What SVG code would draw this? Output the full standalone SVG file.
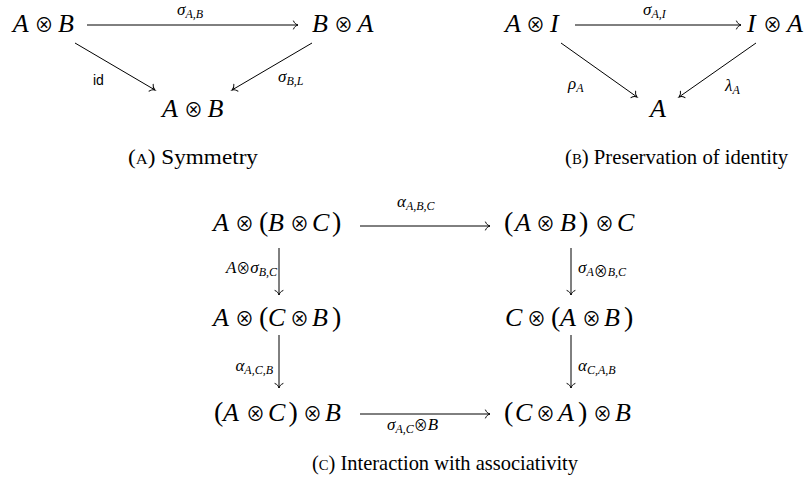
<svg xmlns="http://www.w3.org/2000/svg" width="812" height="487" viewBox="0 0 812 487">
<style>
text{font-family:"Liberation Serif","DejaVu Serif",serif;fill:#000}
.n{font-size:26px;font-style:italic}
.p{font-style:normal;font-size:28px}
.o{font-family:"Noto Sans CJK JP","Noto Sans CJK SC","DejaVu Sans",sans-serif;font-style:normal;font-size:19px;text-anchor:middle}
.os{font-family:"Noto Sans CJK JP","Noto Sans CJK SC","DejaVu Sans",sans-serif;font-style:normal;font-size:14px}
.i{font-style:italic}
.l{font-size:17px}
.s{font-size:12px;font-style:italic}
.cap{font-size:21px}
.sans{font-family:"Liberation Sans",sans-serif;font-size:14px}
.end{text-anchor:end}
.ar{fill:none;stroke:#000;stroke-width:1;marker-end:url(#to)}
</style>
<defs>
<marker id="to" markerUnits="userSpaceOnUse" markerWidth="12" markerHeight="12" refX="0" refY="0" viewBox="-6 -6 12 12" orient="auto" overflow="visible">
<path d="M-4.5,-4 C-3.5,-1.5 -1.5,-0.4 0,0 C-1.5,0.4 -3.5,1.5 -4.5,4" fill="none" stroke="#000" stroke-width="1" stroke-linecap="round"/>
</marker>
</defs>
<g id="connectors">
<path class="ar" d="M87,25 L298,25"/>
<path class="ar" d="M75,43 L155,90"/>
<path class="ar" d="M312,43 L232,90"/>
<path class="ar" d="M575,25 L741,25"/>
<path class="ar" d="M561,43 L637,97"/>
<path class="ar" d="M756,43 L679,97"/>
<path class="ar" d="M360,226 L490,226"/>
<path class="ar" d="M279,248 L279,295"/>
<path class="ar" d="M571,248 L571,295"/>
<path class="ar" d="M279,335 L279,388"/>
<path class="ar" d="M571,335 L571,388"/>
<path class="ar" d="M360,414 L490,414"/>
</g>
<g id="labels">
<text class="l" x="177" y="15"><tspan class="i">σ</tspan><tspan class="s" dy="3">A,B</tspan></text>
<text class="sans" x="93" y="85">id</text>
<text class="l" x="278" y="82"><tspan class="i">σ</tspan><tspan class="s" dy="3">B,L</tspan></text>
<text class="l" x="643" y="15"><tspan class="i">σ</tspan><tspan class="s" dy="3">A,I</tspan></text>
<text class="l" x="568" y="89"><tspan class="i">ρ</tspan><tspan class="s" dy="3">A</tspan></text>
<text class="l" x="725" y="91"><tspan class="i">λ</tspan><tspan class="s" dy="3">A</tspan></text>
<text class="l" x="397" y="207"><tspan class="i">α</tspan><tspan class="s" dy="3">A,B,C</tspan></text>
<text class="l end" x="277" y="273"><tspan class="i">A</tspan><tspan class="os">⊗</tspan><tspan class="i">σ</tspan><tspan class="s" dy="3">B,C</tspan></text>
<text class="l" x="578" y="273"><tspan class="i">σ</tspan><tspan class="s" dy="3">A</tspan><tspan class="os" font-size="10">⊗</tspan><tspan class="s">B,C</tspan></text>
<text class="l end" x="273" y="371"><tspan class="i">α</tspan><tspan class="s" dy="3">A,C,B</tspan></text>
<text class="l" x="578" y="371"><tspan class="i">α</tspan><tspan class="s" dy="3">C,A,B</tspan></text>
<text class="l" x="387" y="430"><tspan class="i">σ</tspan><tspan class="s" dy="3">A,C</tspan><tspan class="os" dy="-3">⊗</tspan><tspan class="i">B</tspan></text>
</g>
<g id="nA1"><text class="n" y="32"><tspan x="12.7">A</tspan><tspan class="o" x="44"> ⊗ </tspan><tspan x="58">B</tspan></text></g>
<g id="nA2"><text class="n" y="32"><tspan x="312">B</tspan><tspan class="o" x="343.5"> ⊗ </tspan><tspan x="357.5">A</tspan></text></g>
<g id="nA3"><text class="n" y="117"><tspan x="162">A</tspan><tspan class="o" x="193.5"> ⊗ </tspan><tspan x="207.5">B</tspan></text></g>
<g id="nB1"><text class="n" y="32"><tspan x="505">A</tspan><tspan class="o" x="535.5"> ⊗ </tspan><tspan x="550">I</tspan></text></g>
<g id="nB2"><text class="n" y="32"><tspan x="747">I</tspan><tspan class="o" x="772.5"> ⊗ </tspan><tspan x="787">A</tspan></text></g>
<g id="nB3"><text class="n" x="650" y="117">A</text></g>
<g id="nC1"><text class="n" y="231"><tspan x="213">A</tspan><tspan class="o" x="244.5"> ⊗ </tspan><tspan class="p" x="259">(</tspan><tspan x="268">B</tspan><tspan class="o" x="299.5"> ⊗ </tspan><tspan x="312">C</tspan><tspan class="p" x="332">)</tspan></text></g>
<g id="nC2"><text class="n" y="231"><tspan class="p" x="504">(</tspan><tspan x="515">A</tspan><tspan class="o" x="545.5"> ⊗ </tspan><tspan x="560">B</tspan><tspan class="p" x="579">)</tspan><tspan class="o" x="604.5"> ⊗ </tspan><tspan x="617">C</tspan></text></g>
<g id="nC3"><text class="n" y="326"><tspan x="213">A</tspan><tspan class="o" x="244.5"> ⊗ </tspan><tspan class="p" x="259">(</tspan><tspan x="268">C</tspan><tspan class="o" x="299.5"> ⊗ </tspan><tspan x="312">B</tspan><tspan class="p" x="332">)</tspan></text></g>
<g id="nC4"><text class="n" y="326"><tspan x="505">C</tspan><tspan class="o" x="536.5"> ⊗ </tspan><tspan class="p" x="551">(</tspan><tspan x="560">A</tspan><tspan class="o" x="591.5"> ⊗ </tspan><tspan x="604">B</tspan><tspan class="p" x="624">)</tspan></text></g>
<g id="nC5"><text class="n" y="421"><tspan class="p" x="214">(</tspan><tspan x="223">A</tspan><tspan class="o" x="255.5"> ⊗ </tspan><tspan x="268">C</tspan><tspan class="p" x="288.5">)</tspan><tspan class="o" x="312.5"> ⊗ </tspan><tspan x="325">B</tspan></text></g>
<g id="nC6"><text class="n" y="421"><tspan class="p" x="504">(</tspan><tspan x="515">C</tspan><tspan class="o" x="545.5"> ⊗ </tspan><tspan x="558">A</tspan><tspan class="p" x="578">)</tspan><tspan class="o" x="602.5"> ⊗ </tspan><tspan x="615">B</tspan></text></g>
<g id="captions">
<text class="cap" x="128" y="164" textLength="130" lengthAdjust="spacingAndGlyphs">(<tspan font-variant="small-caps">a</tspan>) Symmetry</text>
<text class="cap" x="565" y="164" textLength="223" lengthAdjust="spacingAndGlyphs">(<tspan font-variant="small-caps">b</tspan>) Preservation of identity</text>
<text class="cap" x="312" y="470" textLength="266" lengthAdjust="spacingAndGlyphs">(<tspan font-variant="small-caps">c</tspan>) Interaction with associativity</text>
</g>
</svg>
